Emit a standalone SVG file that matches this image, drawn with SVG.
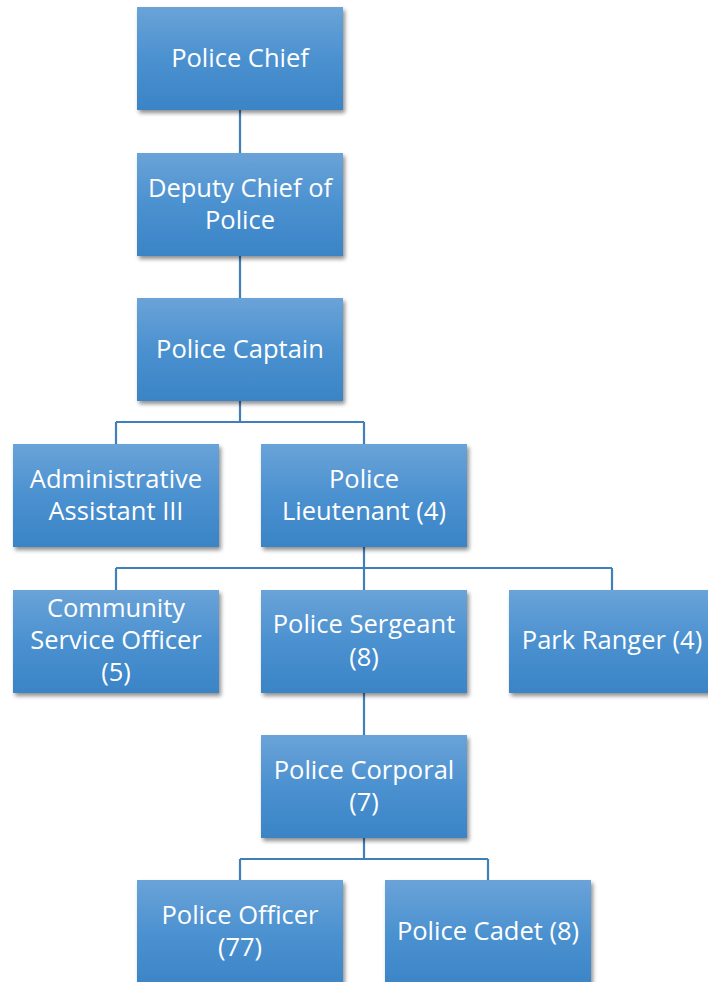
<svg xmlns="http://www.w3.org/2000/svg" width="708" height="982" viewBox="0 0 708 982">
  <defs>
    <linearGradient id="boxFill" x1="0" y1="0" x2="0" y2="1">
      <stop offset="0" stop-color="#6aa3d8"/>
      <stop offset="0.5" stop-color="#4b91d0"/>
      <stop offset="1" stop-color="#3a84c6"/>
    </linearGradient>
    <filter id="shadow" x="-10%" y="-10%" width="125%" height="130%">
      <feGaussianBlur in="SourceAlpha" stdDeviation="2.2"/>
      <feOffset dx="2" dy="3" result="b"/>
      <feComponentTransfer><feFuncA type="linear" slope="0.45"/></feComponentTransfer>
      <feMerge><feMergeNode/><feMergeNode in="SourceGraphic"/></feMerge>
    </filter>
  </defs>
  <style>
    .box { fill: url(#boxFill); filter: url(#shadow); }
    .lbl { font-family: "Open Sans", "Liberation Sans", sans-serif; font-size: 25.5px; fill: #ffffff; text-anchor: middle; }
    .conn { fill: none; stroke: #3f7fba; stroke-width: 2.2; }
  </style>
  <rect width="708" height="982" fill="#ffffff"/>

  <g id="connectors">
    <path class="conn" d="M240 110 V153"/>
    <path class="conn" d="M240 256 V298"/>
    <path class="conn" d="M240 401 V422 M116 422 H364 M116 422 V444 M364 422 V444"/>
    <path class="conn" d="M364 547 V590 M116 568 H612 M116 568 V590 M612 568 V590"/>
    <path class="conn" d="M364 693 V735"/>
    <path class="conn" d="M364 838 V859 M240 859 H488 M240 859 V880 M488 859 V880"/>
  </g>

  <g id="police-chief">
    <rect class="box" x="137" y="7" width="206" height="103"/>
    <text class="lbl" x="240" y="67">Police Chief</text>
  </g>
  <g id="deputy-chief">
    <rect class="box" x="137" y="153" width="206" height="103"/>
    <text class="lbl" x="240" y="197">Deputy Chief of</text>
    <text class="lbl" x="240" y="229">Police</text>
  </g>
  <g id="police-captain">
    <rect class="box" x="137" y="298" width="206" height="103"/>
    <text class="lbl" x="240" y="358">Police Captain</text>
  </g>
  <g id="admin-assistant">
    <rect class="box" x="13" y="444" width="206" height="103"/>
    <text class="lbl" x="116" y="488">Administrative</text>
    <text class="lbl" x="116" y="520">Assistant III</text>
  </g>
  <g id="police-lieutenant">
    <rect class="box" x="261" y="444" width="206" height="103"/>
    <text class="lbl" x="364" y="488">Police</text>
    <text class="lbl" x="364" y="520">Lieutenant (4)</text>
  </g>
  <g id="community-service-officer">
    <rect class="box" x="13" y="590" width="206" height="103"/>
    <text class="lbl" x="116" y="617">Community</text>
    <text class="lbl" x="116" y="649">Service Officer</text>
    <text class="lbl" x="116" y="681">(5)</text>
  </g>
  <g id="police-sergeant">
    <rect class="box" x="261" y="590" width="206" height="103"/>
    <text class="lbl" x="364" y="633">Police Sergeant</text>
    <text class="lbl" x="364" y="666">(8)</text>
  </g>
  <g id="park-ranger">
    <rect class="box" x="509" y="590" width="206" height="103"/>
    <text class="lbl" x="612" y="649">Park Ranger (4)</text>
  </g>
  <g id="police-corporal">
    <rect class="box" x="261" y="735" width="206" height="103"/>
    <text class="lbl" x="364" y="779">Police Corporal</text>
    <text class="lbl" x="364" y="811">(7)</text>
  </g>
  <g id="police-officer">
    <rect class="box" x="137" y="880" width="206" height="110"/>
    <text class="lbl" x="240" y="924">Police Officer</text>
    <text class="lbl" x="240" y="956">(77)</text>
  </g>
  <g id="police-cadet">
    <rect class="box" x="385" y="880" width="206" height="110"/>
    <text class="lbl" x="488" y="940">Police Cadet (8)</text>
  </g>
</svg>
